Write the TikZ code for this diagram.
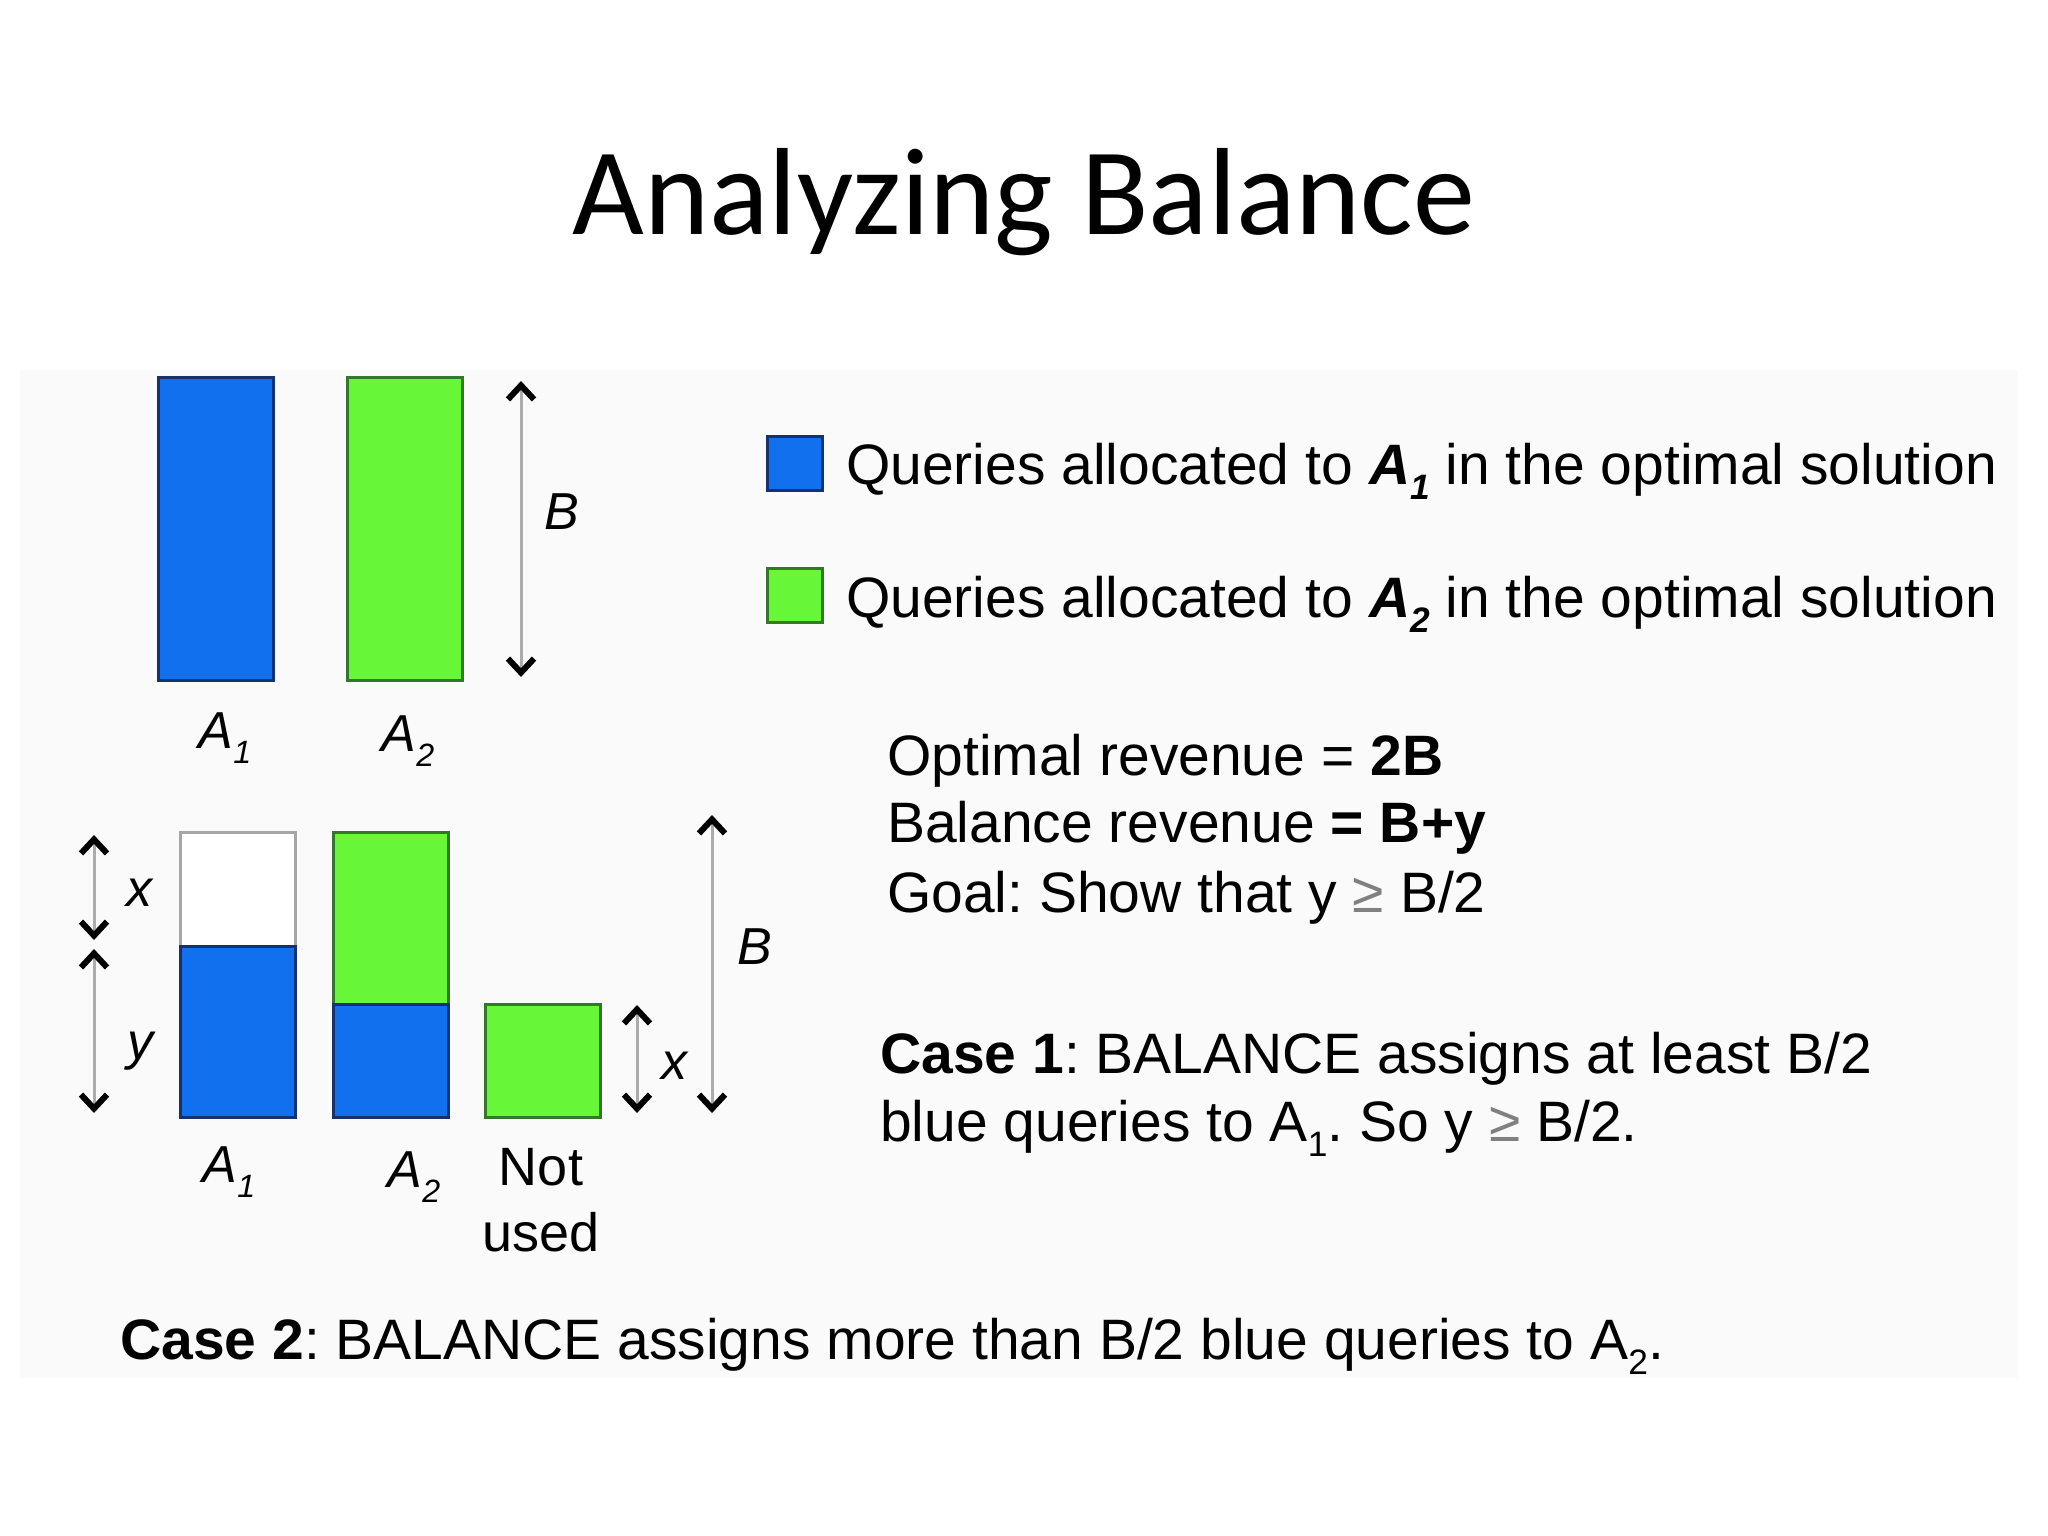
\documentclass[tikz,border=0pt]{standalone}
\usepackage{fontspec}
\setmainfont{Liberation Sans}
\newfontfamily\titlefont{Carlito}
\usetikzlibrary{arrows.meta}
\frenchspacing
\definecolor{barblue}{RGB}{16,112,238}
\definecolor{bluedge}{RGB}{22,50,110}
\definecolor{bargreen}{RGB}{104,246,56}
\definecolor{greenedge}{RGB}{50,120,40}
\newcommand{\mysub}[1]{\raisebox{-0.28em}{\scalebox{0.62}{#1}}}
\tikzset{
  bar/.style={draw, line width=3pt, minimum width=115pt, anchor=north west, inner sep=0pt, outer sep=0pt},
  bluebar/.style={bar, fill=barblue, draw=bluedge},
  greenbar/.style={bar, fill=bargreen, draw=greenedge},
  emptybar/.style={bar, fill=white, draw=gray!70},
  tipb/.tip={Straight Barb[length=14pt,width=26pt,line width=6pt,black]},
  dim/.style={draw=gray!65, line width=3pt, tipb-tipb},
  lbl/.style={font=\fontsize{52}{60}\selectfont\itshape, inner sep=0pt},
  txt/.style={font=\fontsize{57}{68}\selectfont, anchor=base west, inner sep=0pt},
  legbox/.style={draw, line width=3pt, minimum width=55pt, minimum height=54pt, inner sep=0pt}
}
\begin{document}
\begin{tikzpicture}[x=1pt,y=-1pt]
\useasboundingbox[fill=white] (0,0) rectangle (2048,1536);
\fill[black!2] (20,370) rectangle (2018,1378);
% title
\node[font=\titlefont\fontsize{124}{140}\selectfont, anchor=base, inner sep=0pt] (title) at (1024,234) {Analyzing Balance};
% top bars
\node[bluebar, minimum height=303pt] (tA1) at (158,377) {};
\node[greenbar, minimum height=303pt] (tA2) at (347,377) {};
\coordinate (tBt) at (521,381);
\coordinate (tBb) at (521,677);
\draw[dim] (tBt) -- (tBb);
\node[lbl] (tB) at (562,512) {B};
\node[lbl] (tA1l) at (225,738) {A\mysub{1}};
\node[lbl] (tA2l) at (408,741) {A\mysub{2}};
% legend
\node[legbox, fill=barblue, draw=bluedge] (legb) at (795,463) {};
\node[legbox, fill=bargreen, draw=greenedge] (legg) at (795,595) {};
\node[txt] (legbt) at (846,484) {Queries allocated to \textbf{\itshape A\mysub{1}} in the optimal solution};
\node[txt] (leggt) at (846,617) {Queries allocated to \textbf{\itshape A\mysub{2}} in the optimal solution};
% revenue text
\node[txt] (opt) at (887,775) {Optimal revenue = \textbf{2B}};
\node[txt] (bal) at (887,842) {Balance revenue \textbf{= B+y}};
\node[txt] (goal) at (887,912) {Goal: Show that y {\color{gray}≥} B/2};
\node[txt] (c1a) at (880,1073) {\textbf{Case 1}: BALANCE assigns at least B/2};
\node[txt] (c1b) at (880,1141) {blue queries to A\mysub{1}. So y {\color{gray}≥} B/2.};
\node[txt] (c2) at (120,1359) {\textbf{Case 2}: BALANCE assigns more than B/2 blue queries to A\mysub{2}.};
% bottom bars
\node[emptybar, minimum height=114pt] (bA1w) at (180,832) {};
\node[bluebar, minimum height=171pt] (bA1b) at (180,946) {};
\node[greenbar, minimum height=172pt] (bA2g) at (333,832) {};
\node[bluebar, minimum height=113pt] (bA2b) at (333,1004) {};
\node[greenbar, minimum height=113pt] (bNU) at (485,1004) {};
% dimension arrows
\coordinate (xt) at (94,835);
\coordinate (xb) at (94,940);
\coordinate (yt) at (94,949);
\coordinate (yb) at (94,1113);
\coordinate (x2t) at (637,1005);
\coordinate (x2b) at (637,1113);
\coordinate (bBt) at (712,815);
\coordinate (bBb) at (712,1113);
\draw[dim] (xt) -- (xb);
\draw[dim] (yt) -- (yb);
\draw[dim] (x2t) -- (x2b);
\draw[dim] (bBt) -- (bBb);
\node[lbl] (xl) at (139,893) {x};
\node[lbl] (yl) at (140,1051) {y};
\node[lbl] (x2l) at (674,1066) {x};
\node[lbl] (bBl) at (755,947) {B};
\node[lbl] (bA1l) at (229,1172) {A\mysub{1}};
\node[lbl] (bA2l) at (414,1177) {A\mysub{2}};
\node[font=\fontsize{54}{66}\selectfont, align=center, inner sep=0pt] (nu) at (541,1200) {Not\\used};
\end{tikzpicture}
\end{document}
